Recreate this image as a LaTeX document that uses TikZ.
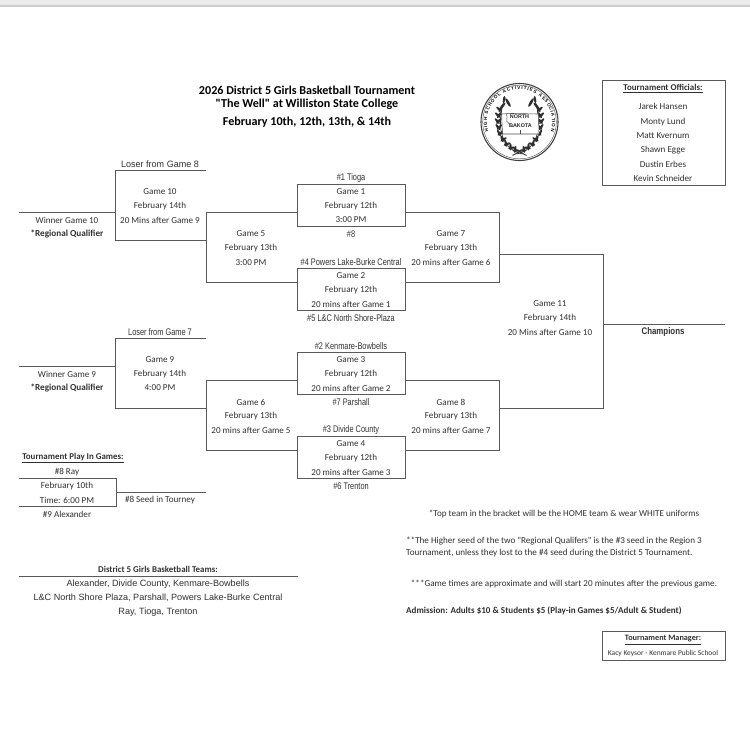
\documentclass[tikz,border=0pt]{standalone}
\usepackage{graphicx}
\usepackage{fontspec}
\setmainfont{Carlito}[Ligatures=TeXOff]
\newfontfamily\arialfont{Liberation Sans}
\usetikzlibrary{decorations.text}
\definecolor{ink}{HTML}{303030}
\definecolor{rule}{HTML}{5A5A5A}
\newcommand{\narrowtxt}[1]{\scalebox{0.77}[1]{\arialfont\fontsize{9.6}{11}\selectfont #1}}
\tikzset{
  x=1pt,y=-1pt,
  txt/.style={inner sep=0pt,text=ink,font=\fontsize{9.1}{11}\selectfont,anchor=center},
  boldtxt/.style={txt,font=\fontsize{9.2}{11}\selectfont\bfseries},
  headtxt/.style={txt,font=\fontsize{8.9}{11}\selectfont\bfseries},
  notetxt/.style={txt,font=\fontsize{9.1}{11}\selectfont},
  leftnote/.style={notetxt,anchor=west},
  titletxt/.style={inner sep=0pt,text=black,font=\fontsize{12.1}{14}\selectfont\bfseries},
  arialtxt/.style={txt,font=\arialfont\fontsize{9.1}{11}\selectfont},
  bracket/.style={draw=rule,line width=1pt},
  framebox/.style={draw=rule,line width=1pt,minimum width=107.5pt,minimum height=42pt,inner sep=0pt}
}
\begin{document}
\begin{tikzpicture}
\useasboundingbox (0,0) rectangle (750,750);
% top band of the page
\fill[black!8] (0,0) rectangle (750,5);
\fill[black!20] (0,4.5) rectangle (750,6.5);

% bracket corner points
\foreach \n/\x/\y in {
 a1/19/212,a2/115.5/212,a3/115.5/170,a4/206/170,a5/115.5/240,a6/206/240,a7/206/212,a8/206/282,
 b1/19/366,b2/115.5/366,b3/115.5/338,b4/206/338,b5/115.5/408,b6/206/408,b7/206/380,b8/206/450,
 c1/499.5/212,c2/499.5/282,c3/499.5/254,c4/603/254,c5/499.5/380,c6/499.5/450,c7/499.5/408,c8/603/408,c9/603/324,c10/725/324,
 p1/19/478,p2/116/478,p3/116/506,p4/19/506,p5/116/492,p6/206/492,
 t1/19/576,t2/298/576}
 {\coordinate (\n) at (\x,\y);}

% first-round boxes
\node[framebox] (g1) at (351.25,205) {};
\node[framebox] (g2) at (351.25,289) {};
\node[framebox] (g3) at (351.25,373) {};
\node[framebox] (g4) at (351.25,457) {};

% brackets
\draw[bracket] (a3) -- (a4);
\draw[bracket] (a1) -- (a2);
\draw[bracket] (a3) -- (a5) -- (a6);
\draw[bracket] (a7) -- (a7 -| g1.west);
\draw[bracket] (a7) -- (a8) -- (a8 -| g2.west);
\draw[bracket] (b3) -- (b4);
\draw[bracket] (b1) -- (b2);
\draw[bracket] (b3) -- (b5) -- (b6);
\draw[bracket] (b7) -- (b7 -| g3.west);
\draw[bracket] (b7) -- (b8) -- (b8 -| g4.west);
\draw[bracket] (c1 -| g1.east) -- (c1) -- (c2) -- (c2 -| g2.east);
\draw[bracket] (c5 -| g3.east) -- (c5) -- (c6) -- (c6 -| g4.east);
\draw[bracket] (c3) -- (c4) -- (c8) -- (c7);
\draw[bracket] (c9) -- (c10);
\draw[bracket] (p1) -- (p2) -- (p3) -- (p4);
\draw[bracket] (p5) -- (p6);
\draw[bracket] (t1) -- (t2);

% title
\node[titletxt] (title1) at (307,90.5) {2026 District 5 Girls Basketball Tournament};
\node[titletxt] (title2) at (307,104.5) {"The Well" at Williston State College};
\node[titletxt] (title3) at (307,122) {February 10th, 12th, 13th, \& 14th};

% Game 10 / Game 9 column
\node[txt] (l8) at (160,164.5) {\scalebox{0.98}[1]{\arialfont\fontsize{9.2}{11}\selectfont Loser from Game 8}};
\node[txt] (g10a) at (160,192) {Game 10};
\node[txt] (g10b) at (160,206) {February 14th};
\node[txt] (g10c) at (160,220) {20 Mins after Game 9};
\node[txt] (w10) at (67,220) {Winner Game 10};
\node[boldtxt] (r10) at (67,234) {*Regional Qualifier};
\node[txt] (l7) at (160,332) {\narrowtxt{Loser from Game 7}};
\node[txt] (g9a) at (160,360) {Game 9};
\node[txt] (g9b) at (160,374) {February 14th};
\node[txt] (g9c) at (160,388) {4:00 PM};
\node[txt] (w9) at (67,374) {Winner Game 9};
\node[boldtxt] (r9) at (67,388) {*Regional Qualifier};

% Game 5 / 6
\node[txt] (g5a) at (251,234) {Game 5};
\node[txt] (g5b) at (251,248) {February 13th};
\node[txt] (g5c) at (251,263) {3:00 PM};
\node[txt] (g6a) at (251,402) {Game 6};
\node[txt] (g6b) at (251,416) {February 13th};
\node[txt] (g6c) at (251,430) {20 mins after Game 5};

% first round text
\node[txt] (s1) at (351,178) {\narrowtxt{\#1 Tioga}};
\node[txt] (g1a) at (351,192) {Game 1};
\node[txt] (g1b) at (351,206) {February 12th};
\node[txt] (g1c) at (351,220) {3:00 PM};
\node[txt] (s8) at (351,234) {\narrowtxt{\#8}};
\node[txt] (s4) at (351,262.5) {\narrowtxt{\#4 Powers Lake-Burke Central}};
\node[txt] (g2a) at (351,276) {Game 2};
\node[txt] (g2b) at (351,290) {February 12th};
\node[txt] (g2c) at (351,304) {20 mins after Game 1};
\node[txt] (s5) at (351,318) {\narrowtxt{\#5 L\&C North Shore-Plaza}};
\node[txt] (s2) at (351,346) {\narrowtxt{\#2 Kenmare-Bowbells}};
\node[txt] (g3a) at (351,360) {Game 3};
\node[txt] (g3b) at (351,374) {February 12th};
\node[txt] (g3c) at (351,388) {20 mins after Game 2};
\node[txt] (s7) at (351,402) {\narrowtxt{\#7 Parshall}};
\node[txt] (s3) at (351,430) {\narrowtxt{\#3 Divide County}};
\node[txt] (g4a) at (351,444) {Game 4};
\node[txt] (g4b) at (351,458) {February 12th};
\node[txt] (g4c) at (351,472) {20 mins after Game 3};
\node[txt] (s6) at (351,486) {\narrowtxt{\#6 Trenton}};

% Game 7 / 8 / 11
\node[txt] (g7a) at (451,234) {Game 7};
\node[txt] (g7b) at (451,248) {February 13th};
\node[txt] (g7c) at (451,262.5) {20 mins after Game 6};
\node[txt] (g8a) at (451,402) {Game 8};
\node[txt] (g8b) at (451,416) {February 13th};
\node[txt] (g8c) at (451,430) {20 mins after Game 7};
\node[txt] (g11a) at (550,304) {Game 11};
\node[txt] (g11b) at (550,318) {February 14th};
\node[txt] (g11c) at (550,332) {20 Mins after Game 10};
\node[txt] (champ) at (663,332) {\scalebox{0.82}[1]{\arialfont\fontsize{9.6}{11}\selectfont\bfseries Champions}};

% play-in
\node[headtxt] (pi) at (73,458) {\underline{Tournament Play In Games:}};
\node[txt] (pa) at (67,472) {\#8 Ray};
\node[txt] (pb) at (67,486) {February 10th};
\node[txt] (pc) at (67,500) {Time: 6:00 PM};
\node[txt] (pd) at (67,514) {\#9 Alexander};
\node[txt] (pe) at (160,500) {\#8 Seed in Tourney};

% teams
\node[headtxt] (th) at (158,569.5) {District 5 Girls Basketball Teams:};
\node[arialtxt] (t1l) at (158,584) {Alexander, Divide County, Kenmare-Bowbells};
\node[arialtxt] (t2l) at (158,598) {L\&C North Shore Plaza, Parshall, Powers Lake-Burke Central};
\node[arialtxt] (t3l) at (158,612) {Ray, Tioga, Trenton};

% notes
\node[notetxt] (n1) at (564,513.5) {*Top team in the bracket will be the HOME team \& wear WHITE uniforms};
\node[leftnote] (n2) at (406,541.5) {**The Higher seed of the two "Regional Qualifers" is the \#3 seed in the Region 3};
\node[leftnote] (n3) at (406,553) {Tournament, unless they lost to the \#4 seed during the District 5 Tournament.};
\node[notetxt] (n4) at (564,584) {***Game times are approximate and will start 20 minutes after the previous game.};
\node[leftnote,font=\fontsize{9.05}{11}\selectfont\bfseries] (n5) at (406,611) {Admission: Adults \$10 \& Students \$5 (Play-in Games \$5/Adult \& Student)};

% officials
\node[framebox,minimum width=123pt,minimum height=104.5pt] (off) at (663.5,132.75) {};
\node[headtxt] (o0) at (663,88.5) {\underline{Tournament Officials:}};
\node[txt] (o1) at (663,106) {Jarek Hansen};
\node[txt] (o2) at (663,122) {Monty Lund};
\node[txt] (o3) at (663,136) {Matt Kvernum};
\node[txt] (o4) at (663,150) {Shawn Egge};
\node[txt] (o5) at (663,164) {Dustin Erbes};
\node[txt] (o6) at (663,178) {Kevin Schneider};

% manager
\node[framebox,minimum width=123pt,minimum height=29pt] (mgr) at (663.5,645.5) {};
\node[headtxt,font=\fontsize{8.2}{10}\selectfont\bfseries] (m0) at (663,640) {\underline{Tournament Manager:}};
\node[txt,font=\fontsize{7.45}{9}\selectfont] (m1) at (663,654) {Kacy Keysor - Kenmare Public School};

% seal
\begin{scope}[shift={(519.5,122)},x=1pt,y=1pt]
  \draw[black!75,line width=1.1pt] (0,0) circle[radius=38.5];
  \draw[black!60,line width=0.5pt] (0,0) circle[radius=36.8];
  % laurels
  \foreach \s in {1,-1}{
    \begin{scope}[xscale=\s]
      \draw[black!80,line width=0.7pt] (3,-32) .. controls (-16,-28) and (-25,-8) .. (-15,23);
      \foreach \a/\px/\py in {200/-19.5/12,195/-21/6,190/-21.5/0,185/-21/-6,178/-20/-12,170/-17/-18,160/-13.5/-22.5,150/-9/-26,140/-4.5/-28.5}{
        \fill[black!82] (\px,\py) ++(\a-140:1.2) ellipse[x radius=3.6,y radius=1.2,rotate=\a-140];
        \fill[black!82] (\px,\py) ++(\a-60:1.2) ellipse[x radius=3.6,y radius=1.2,rotate=\a-60];
      }
      \fill[black!82] (-17,16) ellipse[x radius=4.5,y radius=1.3,rotate=50];
      \fill[black!82] (-11.5,19.5) ellipse[x radius=5,y radius=1.4,rotate=120];
      \fill[black!82] (-15.5,22.5) ellipse[x radius=3.6,y radius=1.2,rotate=80];
      \draw[black!80,line width=0.9pt] (-6,-26.5) -- (7,-33.5);
    \end{scope}
  }
  % ring text
  \path[decorate,decoration={text along path,text align=fit to path,
     text={|\arialfont\fontsize{4.5}{5}\selectfont\bfseries|HIGH SCHOOL ACTIVITIES ASSOCIATION}}]
     (197:32.6) arc[start angle=197,end angle=-17,radius=32.6];
  % state
  \draw[black!70,line width=0.6pt,fill=white]
     (-18,8) -- (-8,8.5) -- (19,8) -- (19.5,-12) -- (-17,-12) -- (-17.5,-2) -- cycle;
  \draw[black!70,line width=0.5pt] (-13,8) .. controls (-11,3) and (-15,1) .. (-11,-1)
     .. controls (-8,-2) and (-10,-4) .. (-6,-5);
  \draw[black!70,line width=0.5pt] (1,-12) -- (1,-8);
  \node[inner sep=0pt,font=\arialfont\fontsize{5.4}{6}\selectfont\bfseries,text=black!85] (sealN) at (0,5) {NORTH};
  \node[inner sep=0pt,font=\arialfont\fontsize{5.4}{6}\selectfont\bfseries,text=black!85] (sealD) at (1,-3.5) {DAKOTA};
\end{scope}
\end{tikzpicture}
\end{document}
